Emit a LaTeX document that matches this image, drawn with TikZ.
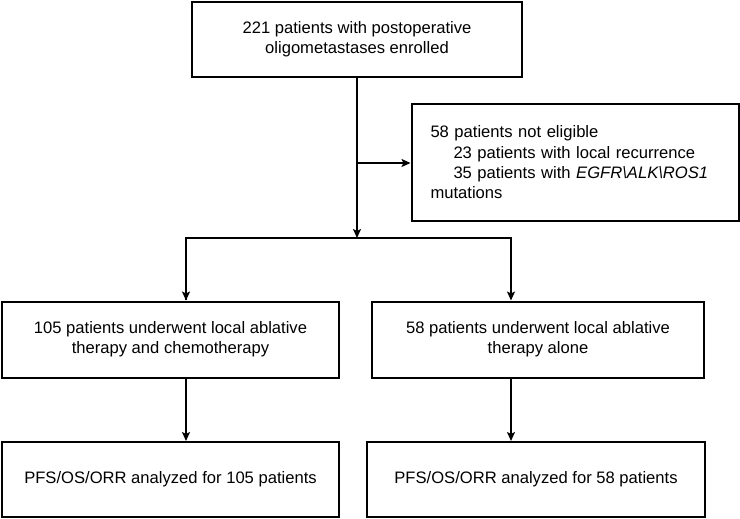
\documentclass[tikz,border=0pt]{standalone}
\usepackage{fontspec}
\setmainfont{Liberation Sans}
\usetikzlibrary{arrows.meta}
\begin{document}
\begin{tikzpicture}[x=1pt,y=-1pt,
  box/.style={draw=black, line width=2pt, align=center, inner sep=0pt,
    font=\fontsize{16.6}{20.3}\selectfont},
  arr/.style={line width=2pt, -{Stealth[length=9pt,width=8pt,inset=2pt]}},
  ln/.style={line width=2pt}]
\useasboundingbox (0,0) rectangle (740,519);
\node[box, minimum width=330pt, minimum height=75pt] (top) at (357,39.5)
  {221 patients with postoperative\\oligometastases enrolled};
\node[box, minimum height=116pt, text width=289pt, inner xsep=19pt, align=left] (excl) at (575,162.5)
  {58 patients not eligible\\
   \hspace*{23pt}23 patients with local recurrence\\
   \hspace*{23pt}35 patients with \textit{EGFR\textbackslash ALK\textbackslash ROS1}\\
   mutations};
\node[box, minimum width=337pt, minimum height=76pt] (midL) at (170.5,339.5)
  {105 patients underwent local ablative\\therapy and chemotherapy};
\node[box, minimum width=332pt, minimum height=76pt] (midR) at (538,339.5)
  {58 patients underwent local ablative\\therapy alone};
\node[box, minimum width=337pt, minimum height=75pt] (botL) at (170.5,479.5)
  {PFS/OS/ORR analyzed for 105 patients};
\node[box, minimum width=338pt, minimum height=75pt] (botR) at (536,479.5)
  {PFS/OS/ORR analyzed for 58 patients};
\coordinate (br) at (357,238);
\coordinate (bl) at (186,238);
\coordinate (brr) at (511,238);
\coordinate (sj) at (357,163);
\draw[arr] (top.south) -- (br);
\draw[arr] (sj) -- (sj -| excl.west);
\draw[ln, line join=miter] (bl |- midL.north) ++(0,-1) -- (bl) -- (brr) -- ++(0,1);
\draw[arr] (bl) -- (bl |- midL.north);
\draw[arr] (brr) -- (brr |- midR.north);
\draw[arr] (bl |- midL.south) -- (bl |- botL.north);
\draw[arr] (brr |- midR.south) -- (brr |- botR.north);
\end{tikzpicture}
\end{document}
